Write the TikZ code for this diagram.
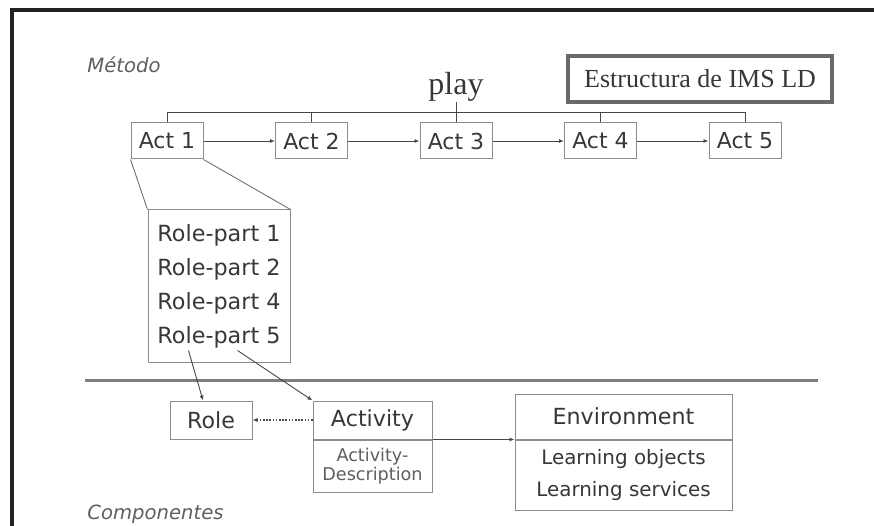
\documentclass[tikz,border=0pt]{standalone}
\usepackage{fontspec}
\setmainfont{Liberation Serif}
\setsansfont{DejaVu Sans}
\usetikzlibrary{positioning, arrows.meta}

\definecolor{framegray}{RGB}{34,34,34}
\definecolor{boxgray}{RGB}{140,140,140}
\definecolor{linegray}{RGB}{70,70,70}
\definecolor{textgray}{RGB}{55,55,55}
\definecolor{softgray}{RGB}{95,95,95}

\tikzset{
  actbox/.style={draw=boxgray, line width=1pt, minimum width=72pt, minimum height=36pt,
    inner sep=0pt, text=textgray, font=\sffamily\fontsize{22}{24}\selectfont},
  compbox/.style={draw=boxgray, line width=1pt, inner sep=0pt, text=textgray,
    font=\sffamily\fontsize{22.2}{24}\selectfont},
  subtext/.style={font=\sffamily\fontsize{17.6}{24}\selectfont, text=softgray, align=center},
  partlabel/.style={text=softgray, font=\sffamily\itshape\fontsize{19.6}{22}\selectfont},
  link/.style={draw=linegray, line width=0.9pt},
  tip/.style={-{Latex[length=5pt, width=4pt]}}
}

\begin{document}
\begin{tikzpicture}[x=1pt, y=-1pt]
\useasboundingbox (0,0) rectangle (874,526);

% outer frame
\draw[framegray, line width=4pt] (12,526) -- (12,10) -- (874,10);

\node[partlabel] (metodo) at (124,65) {Método};
\node[partlabel] (componentes) at (155.5,514) {Componentes};

\node[draw=boxgray!75!black, line width=4pt, minimum width=264pt, minimum height=46pt,
      text=textgray, font=\fontsize{26}{28}\selectfont] (ims) at (700,79) {Estructura de IMS LD};

% acts
\foreach \i/\x in {1/167, 2/311.5, 3/456, 4/600.5, 5/745}
  \node[actbox] (act\i) at (\x,141) {Act \i};
\foreach \i/\j in {1/2, 2/3, 3/4, 4/5}
  \draw[link, tip] (act\i) -- (act\j);

\node[text=textgray, font=\fontsize{32}{34}\selectfont, inner sep=0pt, anchor=south] (play) at (456,102) {play};
\draw[link, line width=0.7pt] (act1.north) -- ++(0,-10) -| (act5.north);
\foreach \i in {2,4}
  \draw[link, line width=0.7pt] (act\i.north) -- ++(0,-10);
\draw[link, line width=0.7pt] (act3.north) -- (play.south);

% role-parts
\node[draw=boxgray, line width=1pt, minimum width=142pt, minimum height=152pt, inner sep=0pt,
      text=textgray, align=left, font=\sffamily\fontsize{22.3}{34}\selectfont] (rp) at (219,286)
      {Role-part 1\\Role-part 2\\Role-part 4\\Role-part 5};
\draw[link, draw=boxgray!80!black] (act1.south west) -- (rp.north west);
\draw[link, draw=boxgray!80!black] (act1.south east) -- (rp.north east);

% separator
\draw[boxgray!90!black, line width=3pt] (85,380) -- (818,380);

% components
\node[compbox, minimum width=82pt, minimum height=38pt] (role) at (211,420) {Role};
\node[compbox, minimum width=119pt, minimum height=38pt] (activity) at (372.5,420) {Activity};
\node[compbox, minimum width=119pt, minimum height=52pt, below=0pt of activity, subtext] (actdesc)
      {Activity-\\[-5pt]Description};
\node[compbox, minimum width=217pt, minimum height=45pt] (env) at (623.5,416.5) {Environment};
\node[compbox, minimum width=217pt, minimum height=70pt, below=0pt of env, align=center,
      font=\sffamily\fontsize{19.9}{32}\selectfont] (envdesc)
      {Learning objects\\Learning services};

\draw[link, tip] ([shift={(41,-12)}]rp.south west) -- ([shift={(-8,0)}]role.north);
\draw[link, tip] ([shift={(90,-12)}]rp.south west) -- (activity.north west);
\draw[link, tip, dash pattern=on 1.6pt off 1.6pt, line width=1.8pt] (activity.west) -- (role.east);
\draw[link, tip] (activity.south east) -- (envdesc.north west);
\end{tikzpicture}
\end{document}
